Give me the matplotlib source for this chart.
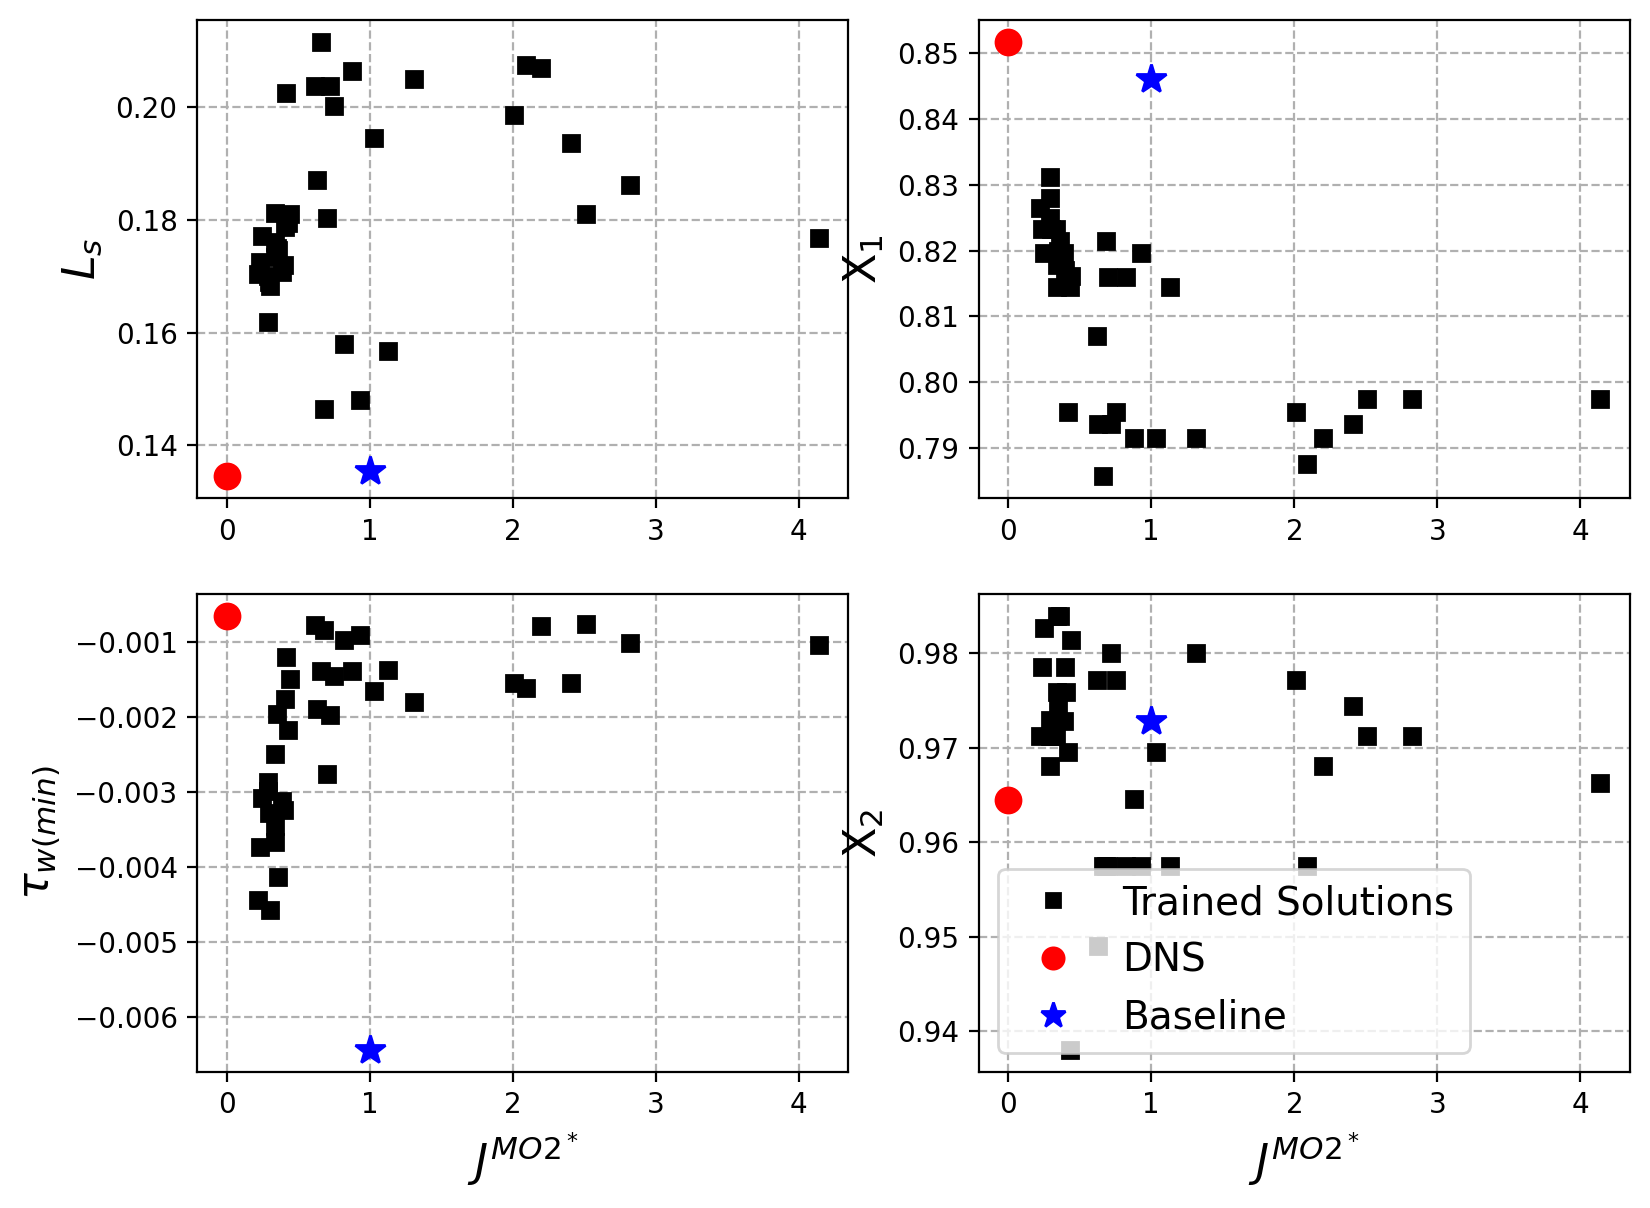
import matplotlib
matplotlib.use("Agg")
import matplotlib.pyplot as plt

# Shared objective values of the trained solutions
J = [0.22, 0.235, 0.25, 0.29, 0.29, 0.295, 0.30, 0.335, 0.34, 0.34, 0.35, 0.36,
     0.39, 0.40, 0.405, 0.415, 0.43, 0.44,
     0.62, 0.63, 0.66, 0.68, 0.70, 0.72, 0.75, 0.82, 0.88, 0.93, 1.03, 1.13,
     1.31, 2.01, 2.09, 2.20, 2.41, 2.51, 2.82, 4.14]

Ls = [0.1704, 0.1726, 0.1771, 0.1619, 0.1700, 0.1690, 0.1682, 0.1812, 0.1760, 0.1735,
      0.1750, 0.1746, 0.1708, 0.1720, 0.1788, 0.2025, 0.1795, 0.1811,
      0.2037, 0.1870, 0.2116, 0.1465, 0.1803, 0.2037, 0.2002, 0.1580, 0.2065, 0.1481,
      0.1945, 0.1567, 0.2050, 0.1986, 0.2074, 0.2070, 0.1937, 0.1811, 0.1862, 0.1768]

X1 = [0.8264, 0.8232, 0.8196, 0.8311, 0.8280, 0.8250, 0.8233, 0.8233, 0.8178, 0.8145,
      0.8200, 0.8214, 0.8196, 0.8170, 0.8150, 0.7955, 0.8145, 0.8161,
      0.8070, 0.7936, 0.7857, 0.8215, 0.8160, 0.7936, 0.7955, 0.8160, 0.7915, 0.8196,
      0.7915, 0.8144, 0.7915, 0.7955, 0.7876, 0.7915, 0.7936, 0.7975, 0.7975, 0.7975]

TAU = [-0.00443, -0.00373, -0.00308, -0.00286, -0.00298, -0.00327, -0.00457, -0.00249,
       -0.00345, -0.00366, -0.00196, -0.00413, -0.00312, -0.00324, -0.00176, -0.00120,
       -0.00217, -0.00149,
       -0.000764, -0.00189, -0.00138, -0.000831, -0.00275, -0.00197, -0.00145, -0.000969,
       -0.00138, -0.000898, -0.00165, -0.00137, -0.00180, -0.00154, -0.00161, -0.000777,
       -0.00154, -0.000755, -0.00101, -0.00103]

X2 = [0.9713, 0.9786, 0.9827, 0.9681, 0.9713, 0.9730, 0.9713, 0.9713, 0.9840, 0.9759,
      0.9745, 0.9840, 0.9728, 0.9786, 0.9759, 0.9696, 0.9380, 0.9814,
      0.9772, 0.9490, 0.9575, 0.9575, 0.9575, 0.9800, 0.9772, 0.9575, 0.9646, 0.9575,
      0.9696, 0.9575, 0.9800, 0.9772, 0.9575, 0.9681, 0.9744, 0.9713, 0.9713, 0.9663]

# Reference cases: (Ls, X1, tau, X2)
DNS_J = 0.0
DNS_VALS = [0.1345, 0.8517, -0.000643, 0.9645]
BASE_J = 1.0
BASE_VALS = [0.1354, 0.8460, -0.00644, 0.9728]

YLABELS = [r'$L_s$', r'X$_1$', r'$\tau_{w(min)}$', r'X$_2$']
XLABEL = r'$J^{MO2^*}$'
SERIES = [Ls, X1, TAU, X2]

fig, axes = plt.subplots(2, 2, figsize=(8.25, 6.04), dpi=200)
fig.subplots_adjust(left=0.1194, right=0.9879, top=0.9834, bottom=0.1126,
                    wspace=0.2, hspace=0.2)

for i, ax in enumerate(axes.flat):
    ax.plot(J, SERIES[i], linestyle='none', marker='s', color='black',
            markersize=6, label='Trained Solutions', zorder=3)
    ax.plot([DNS_J], [DNS_VALS[i]], linestyle='none', marker='o', color='red',
            markersize=9, label='DNS', zorder=3)
    ax.plot([BASE_J], [BASE_VALS[i]], linestyle='none', marker='*', color='blue',
            markersize=11, label='Baseline', zorder=3)
    ax.grid(True, linestyle='--', color='#b0b0b0', linewidth=0.8)
    ax.set_axisbelow(True)
    ax.set_ylabel(YLABELS[i], fontsize=16)
    if i >= 2:
        ax.set_xlabel(XLABEL, fontsize=16)

axes[1, 1].legend(loc='lower left', fontsize=14, markerscale=0.85)

fig.savefig('out.png', dpi=200)
